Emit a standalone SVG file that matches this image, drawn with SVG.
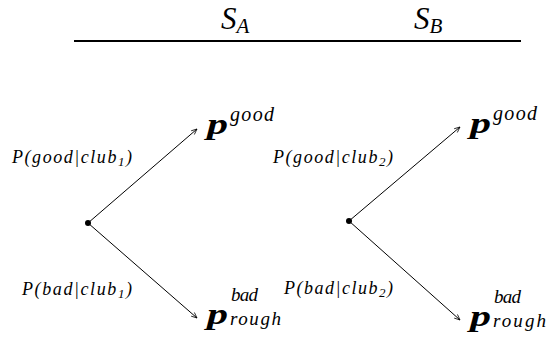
<svg xmlns="http://www.w3.org/2000/svg" width="548" height="339" viewBox="0 0 548 339">
<defs>
<marker id="arr" viewBox="0 0 10 10" refX="9" refY="5" markerWidth="7" markerHeight="7" orient="auto" markerUnits="userSpaceOnUse">
<path d="M1,1.5 L9,5 L1,8.5" fill="none" stroke="#000" stroke-width="1.1"/>
</marker>
<style>
.m{font-family:"Liberation Serif","DejaVu Serif",serif;font-style:italic;fill:#000}
.big{font-size:31px}
.pb{font-family:"Liberation Serif","DejaVu Serif",serif;font-style:italic;font-weight:bold;font-size:29px;fill:#000}
.sup{font-size:20px}
.sub{font-size:19px}
.lab{font-size:18px}
.e{stroke:#000;stroke-width:1;fill:none;marker-end:url(#arr)}
</style>
</defs>
<rect width="548" height="339" fill="#fff"/>
<g id="header">
<text class="m big" x="221" y="29">S<tspan font-size="21px" dy="4">A</tspan></text>
<text class="m big" x="414" y="29">S<tspan font-size="21px" dy="4">B</tspan></text>
<line x1="74" y1="41" x2="521" y2="41" stroke="#000" stroke-width="2"/>
</g>
<g id="connectors">
<line class="e" x1="88" y1="223" x2="197" y2="129"/>
<line class="e" x1="88" y1="223" x2="197" y2="318"/>
<line class="e" x1="349" y1="221" x2="460" y2="127"/>
<line class="e" x1="349" y1="221" x2="460" y2="320"/>
</g>
<g id="nodeA">
<circle cx="88" cy="223" r="3" fill="#000"/>
</g>
<g id="nodeB">
<circle cx="349" cy="221" r="3" fill="#000"/>
</g>
<g id="goodA">
<text class="pb" x="207" y="134" textLength="21" lengthAdjust="spacingAndGlyphs">p</text>
<text class="m sup" x="230" y="121" textLength="44" lengthAdjust="spacing">good</text>
</g>
<g id="badA">
<text class="pb" x="207" y="324" textLength="21" lengthAdjust="spacingAndGlyphs">p</text>
<text class="m sub" x="231" y="301" textLength="27" lengthAdjust="spacing">bad</text>
<text class="m sub" x="230" y="325" textLength="51" lengthAdjust="spacing">rough</text>
</g>
<g id="goodB">
<text class="pb" x="470" y="133" textLength="21" lengthAdjust="spacingAndGlyphs">p</text>
<text class="m sup" x="493" y="120" textLength="44" lengthAdjust="spacing">good</text>
</g>
<g id="badB">
<text class="pb" x="470" y="326" textLength="21" lengthAdjust="spacingAndGlyphs">p</text>
<text class="m sub" x="494" y="303" textLength="27" lengthAdjust="spacing">bad</text>
<text class="m sub" x="493" y="327" textLength="53" lengthAdjust="spacing">rough</text>
</g>
<g id="labels">
<text class="m lab" x="12" y="163" textLength="120" lengthAdjust="spacing">P(good|club<tspan font-size="13px" dy="3">1</tspan><tspan dy="-3">)</tspan></text>
<text class="m lab" x="22" y="295" textLength="110" lengthAdjust="spacing">P(bad|club<tspan font-size="13px" dy="3">1</tspan><tspan dy="-3">)</tspan></text>
<text class="m lab" x="273" y="163" textLength="120" lengthAdjust="spacing">P(good|club<tspan font-size="13px" dy="3">2</tspan><tspan dy="-3">)</tspan></text>
<text class="m lab" x="284" y="294" textLength="109" lengthAdjust="spacing">P(bad|club<tspan font-size="13px" dy="3">2</tspan><tspan dy="-3">)</tspan></text>
</g>
</svg>
